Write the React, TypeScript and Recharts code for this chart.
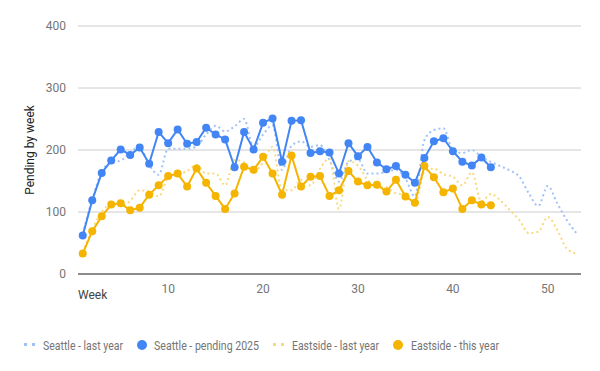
import React from 'react';
import { LineChart, Line, XAxis, YAxis, CartesianGrid } from 'recharts';

const weeks = Array.from({ length: 53 }, (_, i) => i + 1);

const seattleLastYear = [
  65, 120, 165, 180, 183, 196, 205, 176, 160, 202,
  202, 202, 206, 225, 239, 230, 238, 250, 205, 225,
  240, 168, 207, 214, 205, 208, 184, 149, 181, 185,
  162, 162, 165, 168, 154, 125, 216, 232, 235, 200,
  195, 200, 189, 181, 174, 167, 157, 130, 110, 142,
  114, 87, 66,
];

const seattlePending2025 = [
  62, 119, 163, 183, 201, 192, 204, 178, 229, 211,
  233, 210, 213, 236, 225, 217, 172, 229, 201, 244,
  251, 181, 247, 248, 195, 198, 196, 162, 211, 190,
  205, 180, 169, 174, 160, 147, 187, 214, 219, 198,
  181, 175, 188, 172,
];

const eastsideLastYear = [
  35, 72, 100, 113, 110, 118, 135, 133, 125, 155,
  160, 166, 176, 162, 162, 143, 184, 180, 165, 180,
  205, 135, 135, 152, 143, 170, 186, 105, 182, 175,
  152, 140, 140, 130, 128, 114, 165, 170, 161, 157,
  143, 164, 117, 129, 119, 103, 87, 66, 68, 92,
  71, 41, 33,
];

const eastsideThisYear = [
  33, 69, 93, 112, 114, 103, 107, 128, 143, 158,
  162, 141, 170, 147, 126, 105, 130, 173, 168, 189,
  162, 128, 191, 141, 157, 158, 126, 135, 166, 149,
  143, 144, 133, 152, 125, 115, 174, 156, 132, 138,
  105, 119, 112, 111,
];

const yTicks = [0, 100, 200, 300, 400];
const xTicks = [10, 20, 30, 40, 50];

const data = weeks.map((w, i) => ({
  week: w,
  seattleLast: seattleLastYear[i],
  seattleNow: seattlePending2025[i],
  eastsideLast: eastsideLastYear[i],
  eastsideNow: eastsideThisYear[i],
}));

const BLUE = '#4285f4';
const BLUE_LIGHT = '#a0c2f9';
const ORANGE = '#f4b400';
const ORANGE_LIGHT = '#f9d97f';
const FONT = 'Roboto, Arial, sans-serif';

// legend layout: icon position, text start and text width
const legendItems = [
  { label: 'Seattle - last year', color: BLUE_LIGHT, dotted: true, icon: 24, text: 43, len: 80 },
  { label: 'Seattle - pending 2025', color: BLUE, dotted: false, icon: 137, text: 154, len: 105 },
  { label: 'Eastside - last year', color: ORANGE_LIGHT, dotted: true, icon: 273, text: 292, len: 87 },
  { label: 'Eastside - this year', color: ORANGE, dotted: false, icon: 393, text: 411, len: 88 },
];

function LegendRow() {
  const cy = 345;
  return (
    <svg width={600} height={30} viewBox={`0 330 600 30`} style={{ position: 'absolute', left: 0, top: 330 }}>
      {legendItems.map(item => (
        <g key={item.label}>
          {item.dotted ? (
            <>
              <rect x={item.icon} y={cy - 2} width={3} height={3} fill={item.color} />
              <rect x={item.icon + 8} y={cy - 2} width={3} height={3} fill={item.color} />
            </>
          ) : (
            <circle cx={item.icon + 5} cy={cy} r={5} fill={item.color} />
          )}
          <text
            x={item.text}
            y={cy}
            dominantBaseline="central"
            fontSize={13}
            fill="#757575"
            fontFamily={FONT}
            textLength={item.len}
            lengthAdjust="spacingAndGlyphs"
          >
            {item.label}
          </text>
        </g>
      ))}
    </svg>
  );
}

export default function App() {
  return (
    <div style={{ position: 'absolute', left: 0, top: 0, width: 600, height: 371, background: '#fff', fontFamily: FONT }}>
      <LineChart width={600} height={371} data={data} margin={{ top: 26, right: 19, left: 0, bottom: 67 }}>
        <CartesianGrid vertical={false} stroke="#cccccc" />
        <XAxis
          dataKey="week"
          type="number"
          domain={[0.5, 53.5]}
          ticks={xTicks}
          height={30}
          axisLine={{ stroke: '#333333', strokeWidth: 1 }}
          tickLine={false}
          tick={{ fill: '#757575', fontSize: 12, fontFamily: FONT }}
          tickMargin={4}
          label={({ viewBox }: any) => (
            <text x={viewBox.x} y={viewBox.y + 25} fontSize={12} fill="#444444" fontFamily={FONT}>
              Week
            </text>
          )}
        />
        <YAxis
          type="number"
          domain={[0, 400]}
          ticks={yTicks}
          width={78}
          axisLine={false}
          tickLine={false}
          tick={{ fill: '#757575', fontSize: 12, fontFamily: FONT }}
          tickMargin={6}
          label={({ viewBox }: any) => {
            const cx = viewBox.x + 30;
            const cy = viewBox.y + viewBox.height / 2;
            return (
              <text
                x={cx}
                y={cy}
                transform={`rotate(-90 ${cx} ${cy})`}
                textAnchor="middle"
                dominantBaseline="central"
                fontSize={12}
                fill="#222222"
                fontFamily={FONT}
              >
                Pending by week
              </text>
            );
          }}
        />
        <Line
          type="monotone"
          dataKey="seattleLast"
          stroke={BLUE_LIGHT}
          strokeWidth={2}
          strokeDasharray="2 3"
          dot={false}
          isAnimationActive={false}
        />
        <Line
          type="monotone"
          dataKey="eastsideLast"
          stroke={ORANGE_LIGHT}
          strokeWidth={2}
          strokeDasharray="2 3"
          dot={false}
          isAnimationActive={false}
        />
        <Line
          type="linear"
          dataKey="seattleNow"
          stroke={BLUE}
          strokeWidth={2}
          dot={{ r: 4, fill: BLUE, stroke: 'none' }}
          activeDot={false}
          isAnimationActive={false}
        />
        <Line
          type="linear"
          dataKey="eastsideNow"
          stroke={ORANGE}
          strokeWidth={2}
          dot={{ r: 4, fill: ORANGE, stroke: 'none' }}
          activeDot={false}
          isAnimationActive={false}
        />
      </LineChart>
      <LegendRow />
    </div>
  );
}
